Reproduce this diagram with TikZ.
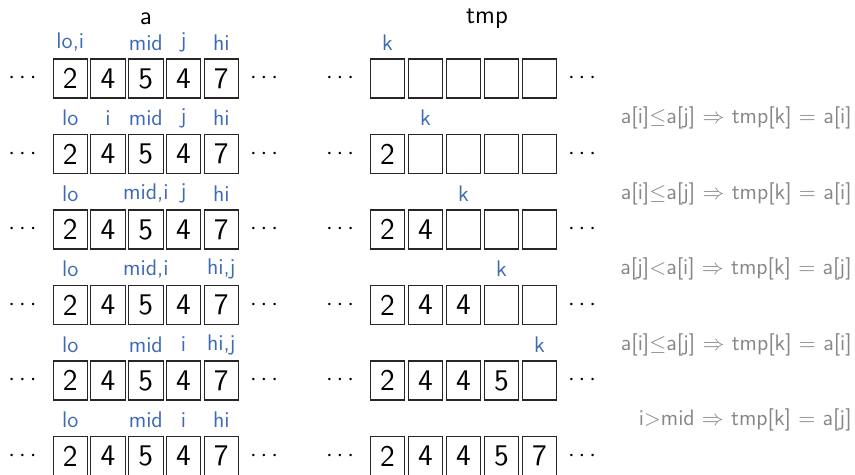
\documentclass[tikz,border=0pt]{standalone}
\renewcommand{\familydefault}{\sfdefault}
\definecolor{ptrblue}{RGB}{62,106,180}
\definecolor{notegray}{RGB}{135,135,135}
\newcommand{\rowy}[1]{\pgfmathsetmacro{\yy}{78.5+75.5*(#1-1)}}
\newcommand{\mrow}[6]{%
  \rowy{#1}%
  \node[dotsn] (la#1) at (22.5,\yy) {$\cdots$};
  \foreach \v [count=\c] in {2,4,5,4,7}
    \node[cell] (a#1-\c) at ({70.3+37.75*(\c-1)},\yy) {\v};
  \node[dotsn] (ra#1) at (264,\yy) {$\cdots$};
  \node[dotsn] (lt#1) at (340,\yy) {$\cdots$};
  \node[cell] (t#1-1) at (387.5,\yy) {#2};
  \node[cell] (t#1-2) at (425.5,\yy) {#3};
  \node[cell] (t#1-3) at (463.5,\yy) {#4};
  \node[cell] (t#1-4) at (501.5,\yy) {#5};
  \node[cell] (t#1-5) at (539.5,\yy) {#6};
  \node[dotsn] (rt#1) at (582,\yy) {$\cdots$};
}
\newcommand{\alab}[3]{\rowy{#1}\node[lab] (p#1-#2) at ({70.3+37.75*(#2-1)},\yy-36) {#3};}
\newcommand{\klab}[2]{\rowy{#1}\node[lab] (k#1) at ({387.5+38*(#2-1)},\yy-36) {k};}
\newcommand{\note}[2]{\rowy{#1}\node[notet] (n#1) at (852,\yy-36) {#2};}
\begin{document}
\begin{tikzpicture}[x=0.5pt,y=-0.5pt,
  cell/.style={draw=black!85, line width=0.55pt, minimum width=17.25pt, minimum height=19.5pt, inner sep=0pt, font=\fontsize{15}{15}\selectfont},
  lab/.style={text=ptrblue, inner sep=0pt, font=\fontsize{11.3}{12}\selectfont},
  dotsn/.style={inner sep=0pt, font=\fontsize{12.5}{13}\selectfont},
  notet/.style={text=notegray, inner sep=0pt, anchor=east, font=\fontsize{11.2}{12}\selectfont},
  titlet/.style={inner sep=0pt, font=\fontsize{12.8}{13}\selectfont}]
\useasboundingbox (0,0) rectangle (855,475);
\node[titlet] (ta) at (146,19) {a};
\node[titlet] (tt) at (487,19) {tmp};
\mrow{1}{}{}{}{}{}
\mrow{2}{2}{}{}{}{}
\mrow{3}{2}{4}{}{}{}
\mrow{4}{2}{4}{4}{}{}
\mrow{5}{2}{4}{4}{5}{}
\mrow{6}{2}{4}{4}{5}{7}
% pointer labels
\alab{1}{1}{lo,i}\alab{1}{3}{mid}\alab{1}{4}{j}\alab{1}{5}{hi}
\alab{2}{1}{lo}\alab{2}{2}{i}\alab{2}{3}{mid}\alab{2}{4}{j}\alab{2}{5}{hi}
\alab{3}{1}{lo}\alab{3}{3}{mid,i}\alab{3}{4}{j}\alab{3}{5}{hi}
\alab{4}{1}{lo}\alab{4}{3}{mid,i}\alab{4}{5}{hi,j}
\alab{5}{1}{lo}\alab{5}{3}{mid}\alab{5}{4}{i}\alab{5}{5}{hi,j}
\alab{6}{1}{lo}\alab{6}{3}{mid}\alab{6}{4}{i}\alab{6}{5}{hi}
\klab{1}{1}\klab{2}{2}\klab{3}{3}\klab{4}{4}\klab{5}{5}
% notes
\note{2}{a[i]$\leq$a[j] $\Rightarrow$ tmp[k] $=$ a[i]}
\note{3}{a[i]$\leq$a[j] $\Rightarrow$ tmp[k] $=$ a[i]}
\note{4}{a[j]$<$a[i] $\Rightarrow$ tmp[k] $=$ a[j]}
\note{5}{a[i]$\leq$a[j] $\Rightarrow$ tmp[k] $=$ a[i]}
\note{6}{i$>$mid $\Rightarrow$ tmp[k] $=$ a[j]}
\end{tikzpicture}
\end{document}
